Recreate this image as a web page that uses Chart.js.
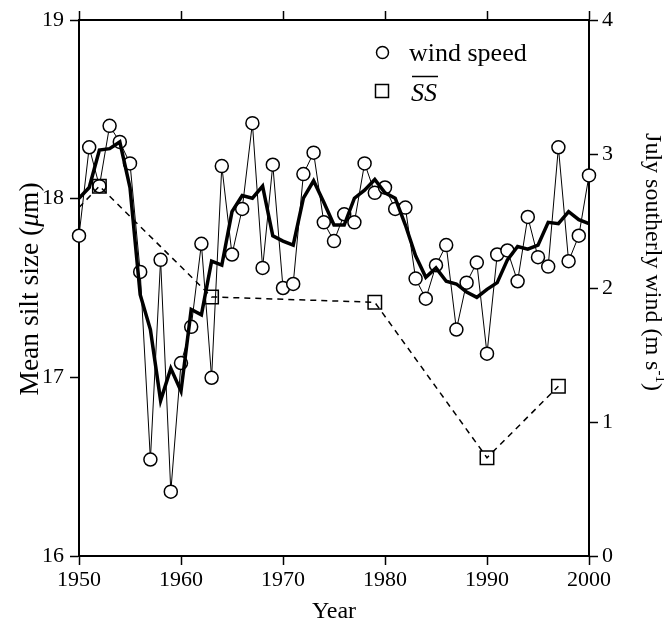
<!DOCTYPE html>
<html><head><meta charset="utf-8">
<script src="https://cdn.jsdelivr.net/npm/chart.js@4/dist/chart.umd.min.js"></script>
<style>html,body{margin:0;padding:0;background:#fff}canvas{display:block}</style>
</head><body>
<canvas id="c" width="664" height="630"></canvas>
<script>
// ---- data ----
const windYears = [1950,1951,1952,1953,1954,1955,1956,1957,1958,1959,
  1960,1961,1962,1963,1964,1965,1966,1967,1968,1969,
  1970,1971,1972,1973,1974,1975,1976,1977,1978,1979,
  1980,1981,1982,1983,1984,1985,1986,1987,1988,1989,
  1990,1991,1992,1993,1994,1995,1996,1997,1998,1999,2000];
// July southerly wind speed (m s-1), open circles
const windSpeed = [2.39,3.05,2.76,3.21,3.09,2.93,2.12,0.72,2.21,0.48,
  1.44,1.71,2.33,1.33,2.91,2.25,2.59,3.23,2.15,2.92,
  2.00,2.03,2.85,3.01,2.49,2.35,2.55,2.49,2.93,2.71,
  2.75,2.59,2.60,2.07,1.92,2.17,2.32,1.69,2.04,2.19,
  1.51,2.25,2.28,2.05,2.53,2.23,2.16,3.05,2.20,2.39,2.84];
// smoothed wind speed (thick line)
const windSmooth = [2.67,2.75,3.03,3.04,3.09,2.75,1.95,1.69,1.16,1.40,
  1.23,1.84,1.80,2.20,2.17,2.57,2.69,2.67,2.76,2.39,
  2.35,2.32,2.67,2.80,2.64,2.47,2.47,2.67,2.73,2.81,
  2.71,2.67,2.47,2.24,2.08,2.15,2.05,2.03,1.97,1.93,
  1.99,2.04,2.21,2.31,2.29,2.32,2.49,2.48,2.57,2.51,2.48];
// mean silt size SS (µm), squares
const ssYears = [1950,1952,1963,1979,1990,1997];
const ssValues = [17.95,18.07,17.45,17.42,16.55,16.95];
const yearTicks = [1950,1960,1970,1980,1990,2000];
const siltTicks = [16,17,18,19];
const windTicks = [0,1,2,3,4];

const SERIF = "'Liberation Serif','Times New Roman',serif";
const tickFont = {family: SERIF, size: 22};
const gridOpts = {drawOnChartArea:false, drawTicks:true, tickLength:9, tickWidth:1.5, tickColor:'#000'};
const borderOpts = {display:true, color:'#000', width:2};
const plain = v => String(v);

const decor = {
  id: 'decor',
  afterDraw(chart) {
    const ctx = chart.ctx;
    ctx.save();
    ctx.fillStyle = '#000'; ctx.strokeStyle = '#000'; ctx.lineWidth = 1.5;
    // legend
    ctx.beginPath(); ctx.arc(382.5, 52.5, 6, 0, 2*Math.PI); ctx.stroke();
    ctx.font = "26px " + SERIF; ctx.textBaseline = 'alphabetic'; ctx.textAlign = 'left';
    ctx.fillText('wind speed', 409, 61);
    ctx.strokeRect(375.5, 84.5, 13, 13);
    ctx.font = "italic 26px " + SERIF;
    ctx.fillText('SS', 411, 101);
    const w = ctx.measureText('SS').width;
    ctx.beginPath(); ctx.moveTo(412, 76.5); ctx.lineTo(412 + w, 76.5); ctx.stroke();
    // left title
    ctx.save();
    ctx.translate(31, 289); ctx.rotate(-Math.PI/2);
    const segL = [["Mean silt size (", ""], ["\u03bc", "italic "], ["m)", ""]];
    let tot = 0;
    segL.forEach(s => { ctx.font = s[1] + "27.5px " + SERIF; tot += ctx.measureText(s[0]).width; });
    let x = -tot/2; ctx.textBaseline = 'middle';
    segL.forEach(s => { ctx.font = s[1] + "27.5px " + SERIF; ctx.fillText(s[0], x, 0); x += ctx.measureText(s[0]).width; });
    ctx.restore();
    // right title
    ctx.save();
    ctx.translate(652, 262); ctx.rotate(Math.PI/2);
    const segR = [["July southerly wind (m s", 24, 0], ["-1", 15, -8], [")", 24, 0]];
    tot = 0;
    segR.forEach(s => { ctx.font = s[1] + "px " + SERIF; tot += ctx.measureText(s[0]).width; });
    x = -tot/2; ctx.textBaseline = 'middle';
    segR.forEach(s => { ctx.font = s[1] + "px " + SERIF; ctx.fillText(s[0], x, s[2]); x += ctx.measureText(s[0]).width; });
    ctx.restore();
    ctx.restore();
  }
};

new Chart(document.getElementById('c'), {
  type: 'line',
  data: {
    datasets: [
      {
        label: 'SS', order: 1, clip: false,
        data: ssYears.map((x, i) => ({x, y: ssValues[i]})),
        xAxisID: 'x', yAxisID: 'ySilt',
        borderColor: '#000', borderWidth: 1.5, borderDash: [6, 5],
        pointStyle: 'rect', pointRadius: ctx => ctx.dataIndex === 0 ? 0 : 9.5,
        pointBackgroundColor: 'rgba(0,0,0,0)', pointBorderColor: '#000', pointBorderWidth: 1.5,
        fill: false, tension: 0
      },
      {
        label: 'smoothed', order: 2, clip: false,
        data: windYears.map((x, i) => ({x, y: windSmooth[i]})),
        xAxisID: 'x', yAxisID: 'yWind',
        borderColor: '#000', borderWidth: 3.5, pointRadius: 0, fill: false, tension: 0
      },
      {
        label: 'wind speed', order: 3, clip: false,
        data: windYears.map((x, i) => ({x, y: windSpeed[i]})),
        xAxisID: 'x', yAxisID: 'yWind',
        borderColor: '#000', borderWidth: 1,
        pointStyle: 'circle', pointRadius: 6.5, pointBackgroundColor: '#fff',
        pointBorderColor: '#000', pointBorderWidth: 1.5, fill: false, tension: 0
      }
    ]
  },
  options: {
    responsive: false, animation: false, devicePixelRatio: 1,
    layout: {padding: 0},
    plugins: {legend: {display: false}, tooltip: {enabled: false}},
    scales: {
      x: {
        type: 'linear', position: 'bottom', min: 1950, max: 2000,
        afterBuildTicks: s => { s.ticks = yearTicks.map(v => ({value: v})); },
        ticks: {font: tickFont, color: '#000', padding: 2, maxRotation: 0, autoSkip: false, callback: plain},
        grid: gridOpts, border: borderOpts,
        title: {display: true, text: 'Year', color: '#000', font: {family: SERIF, size: 24}, padding: {top: 0, bottom: 4}},
        afterFit: s => { s.height = 74; }
      },
      xTop: {
        type: 'linear', position: 'top', min: 1950, max: 2000,
        afterBuildTicks: s => { s.ticks = yearTicks.map(v => ({value: v})); },
        ticks: {display: false, callback: plain},
        grid: gridOpts, border: borderOpts,
        afterFit: s => { s.height = 20; }
      },
      ySilt: {
        type: 'linear', position: 'left', min: 16, max: 19,
        afterBuildTicks: s => { s.ticks = siltTicks.map(v => ({value: v})); },
        ticks: {font: tickFont, color: '#000', padding: 6, callback: plain},
        grid: gridOpts, border: borderOpts,
        afterFit: s => { s.width = 79; }
      },
      yWind: {
        type: 'linear', position: 'right', min: 0, max: 4,
        afterBuildTicks: s => { s.ticks = windTicks.map(v => ({value: v})); },
        ticks: {font: tickFont, color: '#000', padding: 4, callback: plain},
        grid: gridOpts, border: borderOpts,
        afterFit: s => { s.width = 75; }
      }
    }
  },
  plugins: [decor]
});
</script>
</body></html>
